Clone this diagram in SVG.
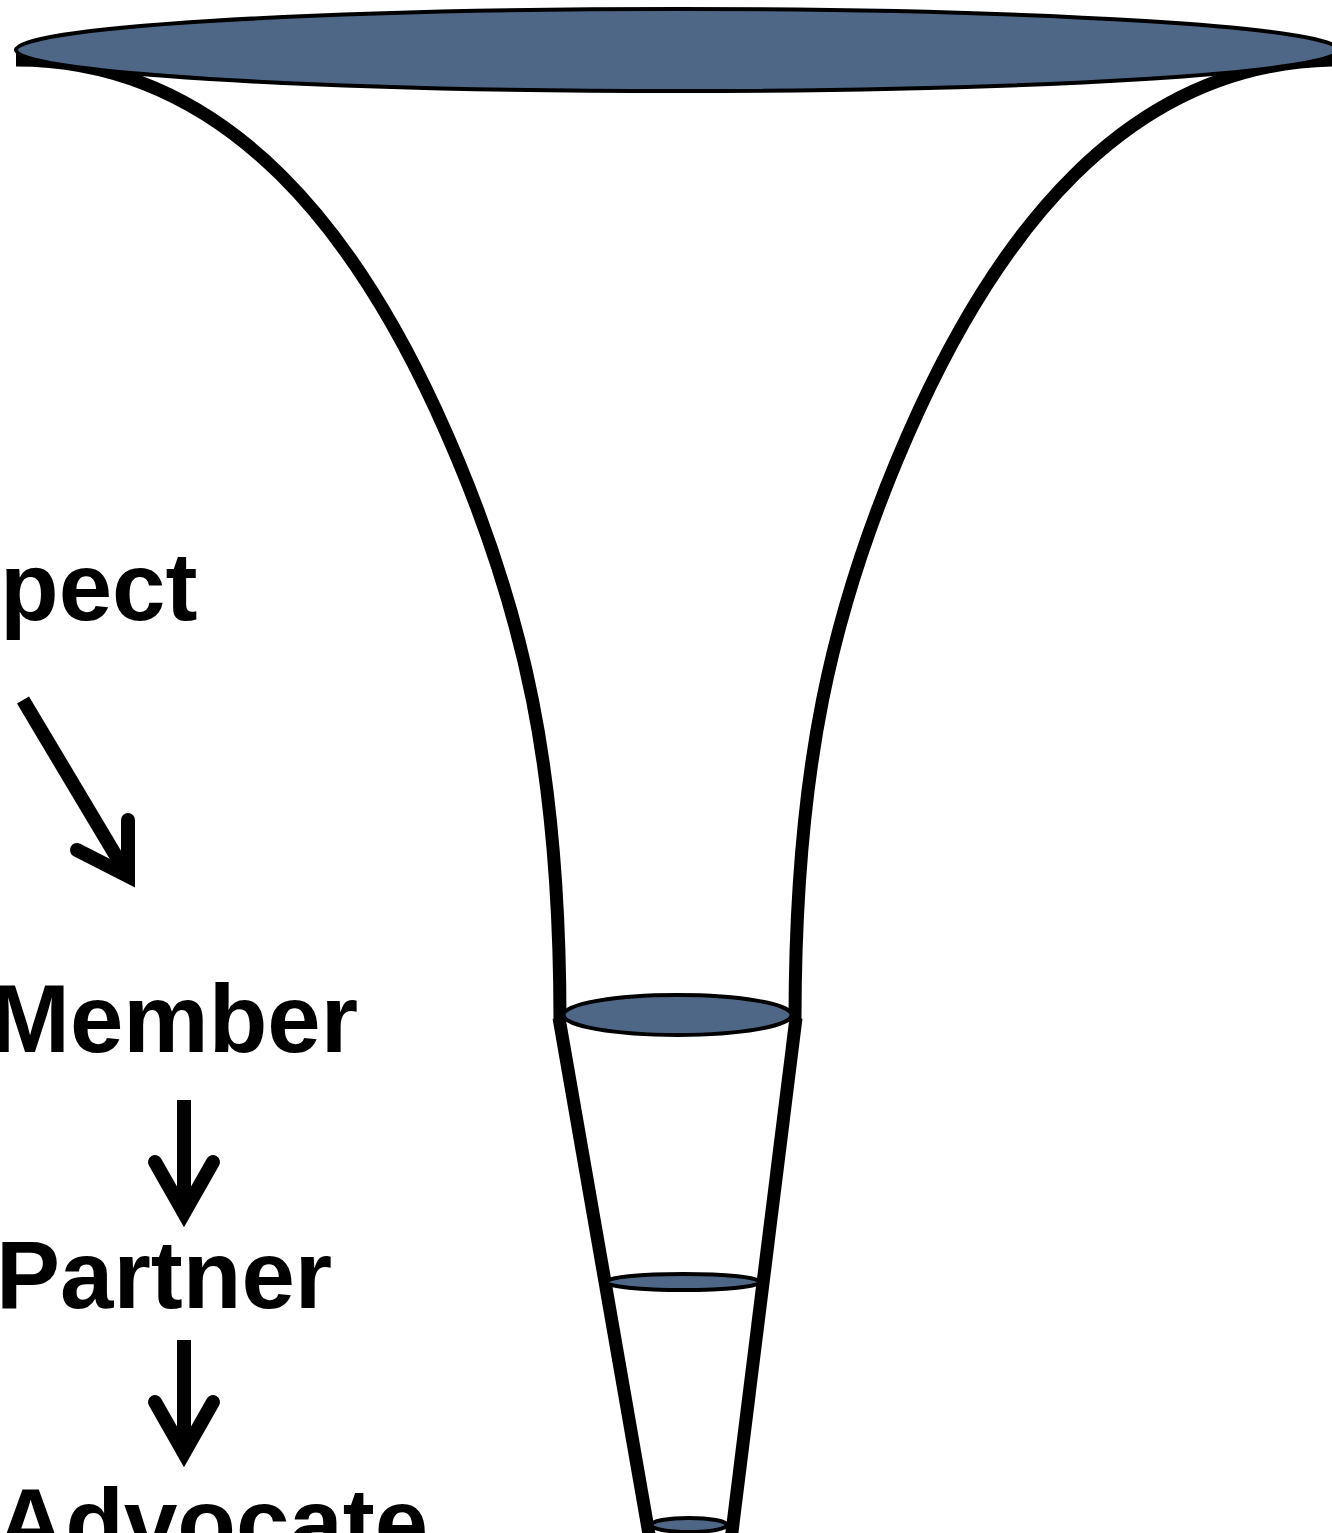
<svg xmlns="http://www.w3.org/2000/svg" width="1332" height="1533" viewBox="0 0 1332 1533">
<style>
.side{fill:none;stroke:#000;stroke-width:13;stroke-linecap:butt}
.disc{fill:#4f6787;stroke:#000;stroke-width:4}
.lbl{font-family:"Liberation Sans",Arial,sans-serif;font-weight:bold;font-size:96px;fill:#000}
.arr{fill:none;stroke:#000;stroke-width:14;stroke-linecap:butt}
.head{fill:none;stroke:#000;stroke-width:14;stroke-linecap:round;stroke-linejoin:miter;stroke-miterlimit:6}
</style>
<rect width="1332" height="1533" fill="#fff"/>
<g id="funnel">
<path class="side" d="M16,60 C236,60 362,250 436,410 C528,610 560,780 560,1022"/>
<path class="side" d="M1339,60 C1119,60 993,250 919,410 C827,610 795,780 795,1022"/>
<line class="side" x1="559" y1="1018" x2="650" y2="1540"/>
<line class="side" x1="796" y1="1018" x2="731" y2="1540"/>
<ellipse class="disc" cx="677.5" cy="50" rx="661.5" ry="41"/>
<ellipse class="disc" cx="677.5" cy="1015" rx="114" ry="20"/>
<ellipse class="disc" cx="683" cy="1282" rx="77" ry="8"/>
<ellipse class="disc" cx="689" cy="1525" rx="38" ry="7"/>
</g>
<g id="label-prospect"><text class="lbl" x="0" y="620">pect</text></g>
<g id="label-member"><text class="lbl" x="-10" y="1052">Member</text></g>
<g id="label-partner"><text class="lbl" x="-4" y="1308">Partner</text></g>
<g id="label-advocate"><text class="lbl" x="-4" y="1556">Advocate</text></g>
<g id="connectors">
<line class="arr" x1="23" y1="700" x2="125" y2="871"/>
<polyline class="head" points="128,820 128,876 77,850"/>
<line class="arr" x1="184" y1="1100" x2="184" y2="1208"/>
<polyline class="head" points="155,1162 184,1213 213,1162"/>
<line class="arr" x1="184" y1="1340" x2="184" y2="1448"/>
<polyline class="head" points="155,1402 184,1453 213,1402"/>
</g>
</svg>
